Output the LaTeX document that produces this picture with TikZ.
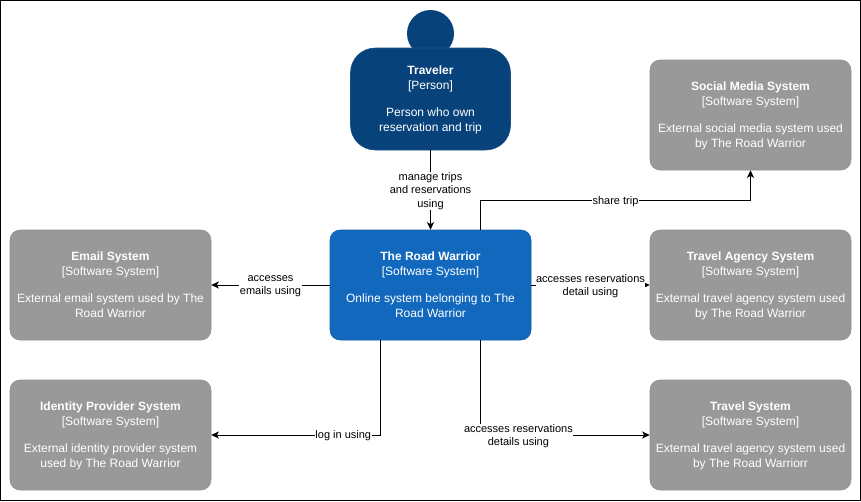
\documentclass[tikz,border=0pt]{standalone}
\usepackage{fontspec}
\setmainfont{Liberation Sans}
\usetikzlibrary{arrows.meta,calc}
\definecolor{personblue}{HTML}{08427B}
\definecolor{sysblue}{HTML}{1168BD}
\definecolor{extgray}{HTML}{999999}
\tikzset{
  x=0.75pt,y=-0.75pt,
  sysbox/.style={rectangle,rounded corners=7.5pt,minimum width=150.75pt,minimum height=82.5pt,inner sep=0pt,
    text=white,align=center,font=\fontsize{9}{11.25}\selectfont},
  ext/.style={sysbox,fill=extgray,draw=extgray!93!black,line width=0.4pt,text=white},
  core/.style={sysbox,fill=sysblue,draw=sysblue!93!black,line width=0.4pt},
  conn/.style={draw=black,line width=0.75pt,-{Stealth[length=5.6pt,width=5.2pt,inset=1.4pt]}},
  lbl/.style={fill=white,inner sep=0.4pt,align=center,text=black,yshift=-0.75pt,font=\fontsize{8.25}{10.1}\selectfont}
}
\newcommand{\systext}[3]{\rule{0pt}{8pt}\textbf{#1}\\{}#2\\[9.25pt]#3\rule[-2pt]{0pt}{2pt}}
\begin{document}
\begin{tikzpicture}
\useasboundingbox (0,0) rectangle (861,501);
\draw[black,line width=0.9pt] (0.5,0.5) rectangle (860.5,500.5);

% person
\fill[personblue] (430.5,33.5) circle[radius=23.5];
\node[sysbox,fill=personblue,draw=personblue!92!white,line width=0.4pt,minimum width=120pt,minimum height=76.5pt,rounded corners=18.5pt] (traveler) at (430.5,99)
  {\systext{Traveler}{[Person]}{Person who own\\reservation and trip}};

\node[core] (rw) at (430.5,285) {\systext{The Road Warrior}{[Software System]}{Online system belonging to The\\Road Warrior}};
\node[ext] (email) at (110.5,285) {\systext{Email System}{[Software System]}{External email system used by The\\Road Warrior}};
\node[ext] (identity) at (110.5,435) {\systext{Identity Provider System}{[Software System]}{External identity provider system\\used by The Road Warrior}};
\node[ext] (social) at (750.5,115) {\systext{Social Media System}{[Software System]}{External social media system used\\by The Road Warrior}};
\node[ext] (agency) at (750.5,285) {\systext{Travel Agency System}{[Software System]}{External travel agency system used\\by The Road Warrior}};
\node[ext] (travel) at (750.5,435) {\systext{Travel System}{[Software System]}{External travel agency system used\\by The Road Warriorr}};

\coordinate (shareout) at (480.5,230);
\coordinate (shareturn) at (480.5,200.5);
\coordinate (loginout) at (380.5,340);
\coordinate (travelout) at (480.5,340);

\draw[conn] (traveler.south) -- node[lbl,pos=0.5] (l1) {manage trips\\and reservations\\using} (rw.north);
\draw[conn] (rw.west) -- node[lbl,pos=0.5] (l2) {accesses\\emails using} (email.east);
\draw[conn] (rw.east) -- node[lbl,pos=0.5] (l3) {accesses reservations\\detail using} (agency.west);
\draw[conn] (shareout) -- (shareturn) -| node[lbl,pos=0.25] (l4) {share trip} (social.south);
\draw[conn] (loginout) |- node[lbl,pos=0.61] (l5) {log in using} (identity.east);
\draw[conn] (travelout) |- node[lbl,pos=0.612] (l6) {accesses reservations\\details using} (travel.west);
\end{tikzpicture}
\end{document}
